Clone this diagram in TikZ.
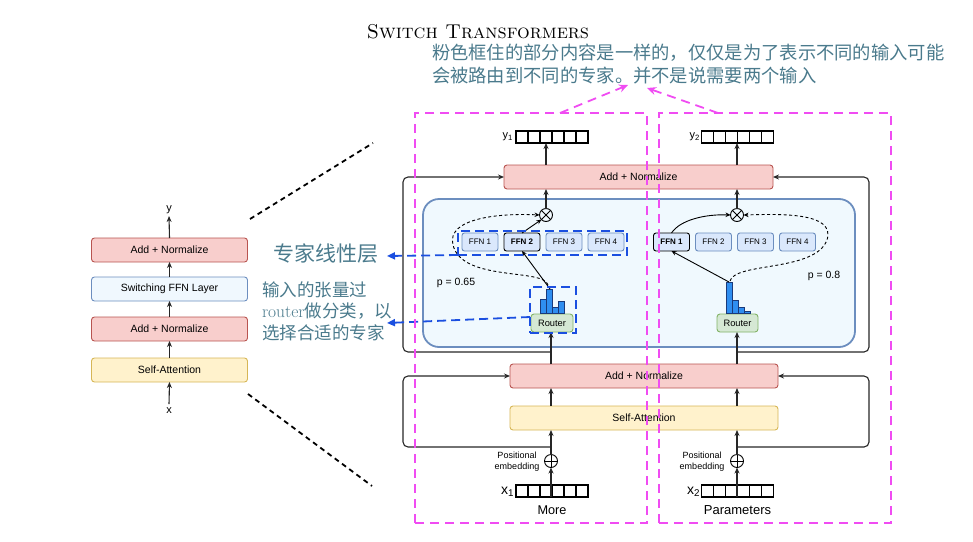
\documentclass[tikz,border=0pt]{standalone}
\usepackage{fontspec}
\newfontfamily\lab{Liberation Sans}
\newfontfamily\cjk{Noto Sans CJK SC}
\usetikzlibrary{arrows.meta,calc}
\newcommand\fsz[1]{\fontsize{#1}{#1}\selectfont}
\definecolor{anfill}{HTML}{F8CECC}
\definecolor{andraw}{HTML}{B85450}
\definecolor{safill}{HTML}{FFF2CC}
\definecolor{sadraw}{HTML}{D6B656}
\definecolor{swfill}{HTML}{F0F8FE}
\definecolor{swdraw}{HTML}{6C8EBF}
\definecolor{moefill}{HTML}{F0F9FE}
\definecolor{moedraw}{HTML}{6C8EBF}
\definecolor{ffnfill}{HTML}{DAE8FC}
\definecolor{ffndraw}{HTML}{6C8EBF}
\definecolor{rtfill}{HTML}{D5E8D4}
\definecolor{rtdraw}{HTML}{82B366}
\definecolor{barfill}{HTML}{2F8EF0}
\definecolor{bardraw}{HTML}{1A3A7A}
\definecolor{pinkc}{HTML}{F04CF2}
\definecolor{bluec}{HTML}{1B4FE0}
\definecolor{anntext}{HTML}{4A7A8C}
\begin{document}
\begin{tikzpicture}[x=1pt,y=-1pt,
  every node/.style={inner sep=0pt, outer sep=0pt},
  arr/.style={-{Stealth[length=6pt,width=5pt]}, line width=1.1pt, draw=black!85},
  res/.style={arr, rounded corners=5pt},
  fbox/.style={draw, rounded corners=3pt, line width=0.9pt, font=\lab\fsz{10.5}},
  anbox/.style={fbox, fill=anfill, draw=andraw, minimum height=24pt},
  sabox/.style={fbox, fill=safill, draw=sadraw, minimum height=24pt},
  swbox/.style={fbox, fill=swfill, draw=swdraw, minimum height=24pt},
  ffnbox/.style={fbox, fill=ffnfill, draw=ffndraw, minimum width=36pt, minimum height=18pt, rounded corners=2.5pt, font=\lab\fsz{8}},
  ffnsel/.style={ffnbox, draw=black, font=\lab\bfseries\fsz{8}},
  rtbox/.style={fbox, fill=rtfill, draw=rtdraw, minimum height=18pt, font=\lab\fsz{9.3}},
  vec/.style={draw, line width=1.5pt, minimum width=72pt, minimum height=12pt},
  otimes/.style={circle, draw, line width=0.9pt, minimum size=13pt,
    path picture={\draw[line width=0.9pt] (path picture bounding box.north west) -- (path picture bounding box.south east) (path picture bounding box.north east) -- (path picture bounding box.south west);}},
  oplus/.style={circle, draw, line width=0.9pt, minimum size=13pt,
    path picture={\draw[line width=0.9pt] (path picture bounding box.north) -- (path picture bounding box.south) (path picture bounding box.east) -- (path picture bounding box.west);}},
  bar/.style={fill=barfill, draw=bardraw, line width=0.6pt},
  dcurve/.style={dash pattern=on 3pt off 2.5pt, line width=0.9pt, -{Stealth[length=5pt,width=4.5pt]}},
  solcurve/.style={line width=0.9pt, -{Stealth[length=5pt,width=4.5pt]}},
  blkdash/.style={dash pattern=on 5pt off 4pt, line width=1.8pt},
  bdash/.style={draw=bluec, dash pattern=on 9pt off 5pt, line width=1.8pt},
  bdarr/.style={bdash, -{Triangle[length=8pt,width=7pt]}},
  pinkd/.style={draw=pinkc, dash pattern=on 9pt off 6pt, line width=1.8pt},
  pinkarr/.style={pinkd, -{Stealth[length=9pt,width=8pt]}},
  cjkt/.style={text=anntext, anchor=base west},
  lbl/.style={font=\lab\fsz{11}}
]
\useasboundingbox (0,0) rectangle (973,541);

% title and notes
\node (title) at (478,32) {\fsz{20}\textsc{Switch Transformers}};
\node[cjkt, font=\cjk\fsz{18.3}] (n1) at (432,59) {粉色框住的部分内容是一样的，仅仅是为了表示不同的输入可能};
\node[cjkt, font=\cjk\fsz{18.3}] (n2) at (432,82) {会被路由到不同的专家。并不是说需要两个输入};

% left column
\node[anbox, minimum width=156pt] (lan2) at (169.5,250) {Add + Normalize};
\node[swbox, minimum width=156pt] (lsw) at (169.5,289) {Switching FFN Layer};
\node[anbox, minimum width=156pt] (lan1) at (169.5,329) {Add + Normalize};
\node[sabox, minimum width=156pt] (lsa) at (169.5,370) {Self-Attention};
\node[lbl] (ly) at (169,210) {y};
\node[lbl] (lx) at (169,411) {x};
\draw[arr] ([yshift=4pt]lx.north) -- (lsa.south);
\draw[arr] (lsa.north) -- (lan1.south);
\draw[arr] (lan1.north) -- (lsw.south);
\draw[arr] (lsw.north) -- (lan2.south);
\draw[arr] (lan2.north) -- ([yshift=-2pt]ly.south);

% zoom lines
\coordinate (z1a) at (250,219); \coordinate (z1b) at (373,143);
\coordinate (z2a) at (248,394); \coordinate (z2b) at (372,486);
\draw[blkdash] (z1a) -- (z1b);
\draw[blkdash] (z2a) -- (z2b);

% main boxes
\node[anbox, minimum width=269pt] (tan) at (638.5,177) {Add + Normalize};
\node[anbox, minimum width=268pt] (ban) at (644,376) {Add + Normalize};
\node[sabox, minimum width=268pt] (bsa) at (644,418) {Self-Attention};

% branch points
\coordinate (br1) at (551,447);
\coordinate (br2) at (551,352);
\coordinate (br3) at (737,447);
\coordinate (br4) at (737,352);

% residual connections
\draw[res] (br1) -- (403,447) -- (403,376) -- (ban.west);
\draw[res] (br2) -- (403,352) -- (403,177) -- (tan.west);
\draw[res] (br3) -- (869,447) -- (869,376) -- (ban.east);
\draw[res] (br4) -- (869,352) -- (869,177) -- (tan.east);

% MoE box
\node[draw=moedraw, fill=moefill, line width=1.8pt, rounded corners=16pt, minimum width=432pt, minimum height=148pt] (moe) at (639,273) {};

% combine nodes
\node[otimes] (om1) at (546,215) {};
\node[otimes] (om2) at (737,215) {};
\node[oplus] (op1) at (551,461) {};
\node[oplus] (op2) at (737,461) {};

% FFN experts
\node[ffnbox] (f1l) at (480,242) {FFN 1};
\node[ffnsel] (f2l) at (522,242) {FFN 2};
\node[ffnbox] (f3l) at (564,242) {FFN 3};
\node[ffnbox] (f4l) at (606,242) {FFN 4};
\node[ffnsel] (f1r) at (671.5,242) {FFN 1};
\node[ffnbox] (f2r) at (713.5,242) {FFN 2};
\node[ffnbox] (f3r) at (755.5,242) {FFN 3};
\node[ffnbox] (f4r) at (797.5,242) {FFN 4};

% routers
\node[rtbox, minimum width=42pt] (rt1) at (552,323) {Router};
\node[rtbox, minimum width=41pt] (rt2) at (737.5,323) {Router};

% histograms
\draw[bar] (540,313) rectangle (546.5,299);
\draw[bar] (546.5,313) rectangle (552.5,289);
\draw[bar] (552.5,313) rectangle (558.5,307);
\draw[bar] (558.5,313) rectangle (564.5,301);
\draw[bar] (726,313) rectangle (732,282);
\draw[bar] (732,313) rectangle (738,300);
\draw[bar] (738,313) rectangle (744,307);
\draw[bar] (744,313) rectangle (750,311);
\coordinate (h1) at (550,289);
\coordinate (h2) at (729,282);

% routing arrows
\draw[solcurve] (h1) -- (f2l.south);
\draw[solcurve] (f2l.north) -- (om1.south west);
\draw[dcurve] (548,285) .. controls (544,268) and (462,282) .. (453,245) .. controls (446,218) and (500,213) .. (om1.west);
\draw[solcurve] (h2) -- (f1r.south);
\draw[solcurve] (f1r.north) .. controls (680,220) and (705,214) .. (om2.west);
\draw[dcurve] (730,281) .. controls (735,262) and (815,272) .. (827,240) .. controls (836,212) and (780,214) .. (om2.east);
\node[font=\lab\fsz{10.5}] (p1) at (456,283) {p = 0.65};
\node[font=\lab\fsz{10.5}] (p2) at (824,276) {p = 0.8};

% output vectors
\node[vec] (v1) at (552,137) {};
\node[vec] (v2) at (737.5,137) {};
\node[vec] (vx1) at (552,491) {};
\node[vec] (vx2) at (737.5,491) {};
\foreach \v in {v1,v2,vx1,vx2}{
  \foreach \i in {1,...,5}{
    \draw[line width=1.3pt] ($(\v.south west)+(\i*12,0)$) -- ($(\v.north west)+(\i*12,0)$);
  }
}
\node[lbl, anchor=east] (y1l) at (513,137) {y\textsubscript{1}};
\node[lbl, anchor=east] (y2l) at (700,137) {y\textsubscript{2}};
\node[font=\lab\fsz{14}, anchor=east] (x1l) at (514,492) {x\textsubscript{1}};
\node[font=\lab\fsz{14}, anchor=east] (x2l) at (700,492) {x\textsubscript{2}};
\node[font=\lab\fsz{12.7}] (w1) at (552,510) {More};
\node[font=\lab\fsz{13}] (w2) at (737.5,510) {Parameters};
\node[font=\lab\fontsize{9}{11}\selectfont, align=center] (pe1) at (517,462) {Positional\\embedding};
\node[font=\lab\fontsize{9}{11}\selectfont, align=center] (pe2) at (702,462) {Positional\\embedding};

% vertical flow, left
\draw[arr] (op1 |- vx1.south) -- (op1.south);
\draw[arr] (op1.north) -- (op1 |- bsa.south);
\draw[arr] (op1 |- bsa.north) -- (op1 |- ban.south);
\draw[arr] (br2 |- ban.north) -- (br2 |- rt1.south);
\draw[arr] (om1.north) -- (om1 |- tan.south);
\draw[arr] (om1 |- tan.north) -- (om1 |- v1.south);
% vertical flow, right
\draw[arr] (op2 |- vx2.south) -- (op2.south);
\draw[arr] (op2.north) -- (op2 |- bsa.south);
\draw[arr] (op2 |- bsa.north) -- (op2 |- ban.south);
\draw[arr] (br4 |- ban.north) -- (br4 |- rt2.south);
\draw[arr] (om2.north) -- (om2 |- tan.south);
\draw[arr] (om2 |- tan.north) -- (om2 |- v2.south);

% blue dashed annotations
\node[bdash, minimum width=169pt, minimum height=24pt] (ffnb) at (542.5,243) {};
\node[bdash, minimum width=46pt, minimum height=46pt] (rtb) at (553,310) {};
\node[cjkt, font=\cjk\fsz{21}] (ann1) at (273,261) {专家线性层};
\node[cjkt, font=\cjk\fsz{17.5}] (ann2a) at (262,296) {输入的张量过};
\node[cjkt, font=\cjk\fsz{17.5}] (ann2b) at (262,317) {{\rmfamily router}做分类，以};
\node[cjkt, font=\cjk\fsz{17.5}] (ann2c) at (262,339) {选择合适的专家};
\coordinate (a1tip) at (387,256);
\coordinate (a2tip) at (387,323);
\draw[bdarr] (ffnb.south west) -- (a1tip);
\draw[bdarr] ($(rtb.west)+(0,7)$) -- (a2tip);

% pink dashed frames
\node[pinkd, minimum width=232pt, minimum height=410pt] (pb1) at (531,318) {};
\node[pinkd, minimum width=232pt, minimum height=410pt] (pb2) at (775,318) {};
\coordinate (pt1) at (628,85);
\coordinate (pt2) at (647,88);
\draw[pinkarr] ($(pb1.north west)+(145,0)$) -- (pt1);
\draw[pinkarr] ($(pb2.north west)+(59,0)$) -- (pt2);
\end{tikzpicture}
\end{document}
